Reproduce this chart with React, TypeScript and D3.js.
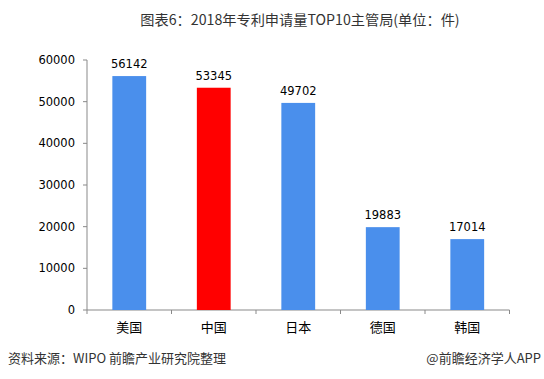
import React from "react";
import * as d3 from "d3";

const categories = ["美国", "中国", "日本", "德国", "韩国"];
const values = [56142, 53345, 49702, 19883, 17014];
const yTicks = [0, 10000, 20000, 30000, 40000, 50000, 60000];
const title = "图表6：2018年专利申请量TOP10主管局(单位：件)";
const source = "资料来源：WIPO 前瞻产业研究院整理";
const credit = "@前瞻经济学人APP";

export default function App() {
  const W = 544, H = 379;
  const left = 87, right = 509.5, top = 60, bottom = 310;
  const x = d3.scaleBand<string>().domain(categories).range([left, right]).paddingInner(0.6).paddingOuter(0.3);
  const y = d3.scaleLinear().domain([0, 60000]).range([bottom, top]);
  const band = (right - left) / categories.length;
  const font = "'Microsoft YaHei', 'Noto Sans CJK SC', sans-serif";
  const numFont = "Verdana, 'DejaVu Sans', sans-serif";
  return (
    <svg width={W} height={H} style={{ position: "absolute", left: 0, top: 0, background: "#fff" }} fontFamily={font}>
      <text x={300} y={25} textAnchor="middle" fontSize={14.2} fill="#333">{title}</text>
      <line x1={left} x2={left} y1={top} y2={bottom} stroke="#898989" />
      {yTicks.map((t) => (
        <g key={t}>
          <line x1={left - 4} x2={left} y1={y(t)} y2={y(t)} stroke="#898989" />
          <text x={75} y={y(t)} dy="0.35em" textAnchor="end" fill="#000" fontFamily={numFont} style={{ fontSize: 11.5 }}>{t}</text>
        </g>
      ))}
      <line x1={left} x2={right} y1={bottom} y2={bottom} stroke="#898989" />
      {d3.range(categories.length + 1).map((i) => (
        <line key={i} x1={left + i * band} x2={left + i * band} y1={bottom} y2={bottom + 4} stroke="#898989" />
      ))}
      {categories.map((c, i) => {
        const bx = x(c)!;
        const bw = x.bandwidth();
        const v = values[i];
        return (
          <g key={c}>
            <rect x={bx} y={y(v)} width={bw} height={bottom - y(v)} fill={c === "中国" ? "#FF0000" : "#4A8FEC"} />
            <text x={bx + bw / 2} y={y(v) - 8} textAnchor="middle" fill="#000" fontFamily={numFont} style={{ fontSize: 11.5 }}>{v}</text>
            <text x={bx + bw / 2} y={332} textAnchor="middle" fontSize={13} fill="#000">{c}</text>
          </g>
        );
      })}
      <text x={8} y={363} fontSize={13} fill="#333">{source}</text>
      <text x={541} y={363} textAnchor="end" fontSize={13} fill="#333">{credit}</text>
    </svg>
  );
}
